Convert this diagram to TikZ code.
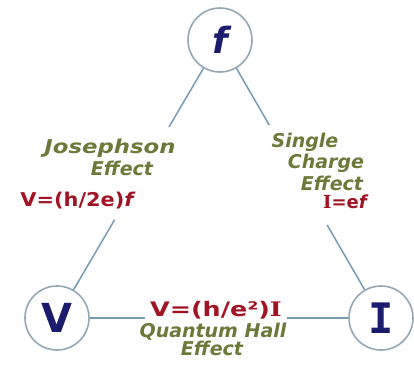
\documentclass[tikz,border=0pt]{standalone}
\usepackage{fontspec}
\usetikzlibrary{calc}
\setmainfont{DejaVu Sans}
\newfontfamily\monofam{DejaVu Sans Mono}
\newfontfamily\seriffam{DejaVu Serif}
\definecolor{olivetxt}{RGB}{107,122,58}
\definecolor{redtxt}{RGB}{160,20,35}
\definecolor{navy}{RGB}{28,28,110}
\definecolor{ringc}{RGB}{150,168,180}
\definecolor{linkc}{RGB}{120,155,180}
\tikzset{
  ring/.style={circle, draw=ringc, line width=1.6pt, minimum size=64pt, inner sep=0pt, fill=white, text=navy},
  link/.style={draw=linkc, line width=1.5pt},
  lbl/.style={font=\bfseries\itshape\fontsize{19}{21}\selectfont, text=olivetxt, anchor=base, inner sep=0pt},
  eq/.style={font=\bfseries\fontsize{19}{21}\selectfont, text=redtxt, anchor=base, inner sep=0pt}
}
\begin{document}
\begin{tikzpicture}[x=1pt,y=-1pt]
\fill[white] (0,0) rectangle (414,368);
\useasboundingbox (0,0) rectangle (414,368);
% circles
\node[ring, font=\bfseries\itshape\fontsize{36}{36}\selectfont] (f) at (220,40) {f};
\node[ring, font=\bfseries\fontsize{40}{40}\selectfont] (V) at (57,318) {V};
\node[ring, font=\monofam\bfseries\fontsize{42}{42}\selectfont] (I) at (381,318) {I};
% gap coordinates
\coordinate (ja) at ($(f)!0.313!(V)$);
\coordinate (jb) at ($(f)!0.647!(V)$);
\coordinate (sa) at ($(f)!0.306!(I)$);
\coordinate (sb) at ($(f)!0.665!(I)$);
\coordinate (qa) at ($(V)!0.272!(I)$);
\coordinate (qb) at ($(V)!0.710!(I)$);
% links
\draw[link] (f) -- (ja);
\draw[link] (jb) -- (V);
\draw[link] (f) -- (sa);
\draw[link] (sb) -- (I);
\draw[link] (V) -- (qa);
\draw[link] (qb) -- (I);
% Josephson
\node[lbl] (j1) at (110,153) {\scalebox{1.2}[1]{Josephson}};
\node[lbl] (j2) at (122,175) {Effect};
\node[eq] (j3) at (77,206) {\scalebox{1.1}[1]{V=(h/2e){\itshape f}}};
% Single charge
\node[lbl] (s1) at (305,147) {Single};
\node[lbl] (s2) at (326,168) {Charge};
\node[lbl] (s3) at (332,190) {Effect};
\node[eq, font=\bfseries\fontsize{18}{20}\selectfont] (s4) at (345,208) {{\seriffam I}=e{\itshape f}};
% Quantum Hall
\node[eq, font=\bfseries\fontsize{20}{22}\selectfont] (q1) at (216,316) {\scalebox{1.27}[1]{V=(h/e²){\seriffam I}}};
\node[lbl] (q2) at (213,337) {Quantum Hall};
\node[lbl] (q3) at (212,355) {Effect};
\end{tikzpicture}
\end{document}
